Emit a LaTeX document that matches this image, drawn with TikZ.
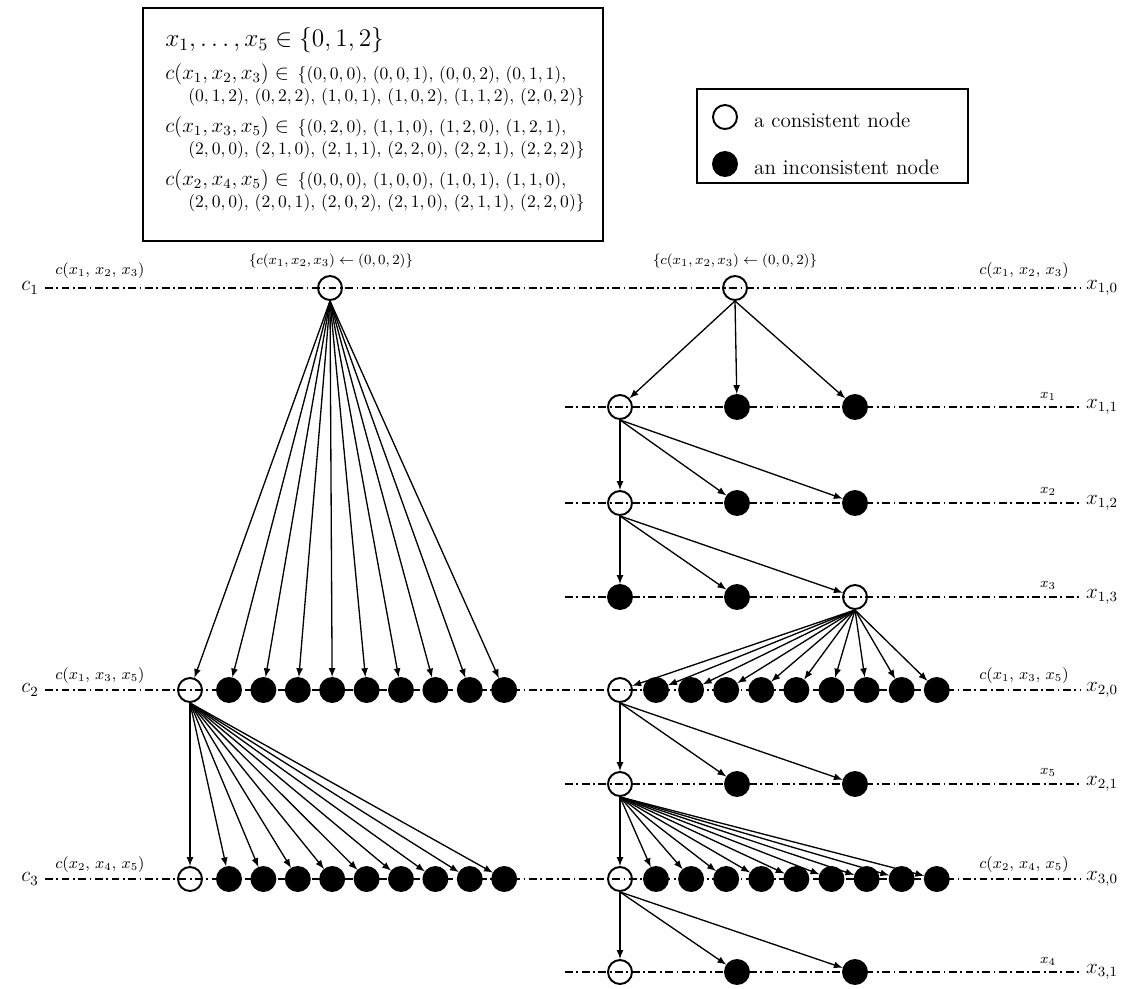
\documentclass[tikz,border=0pt]{standalone}
\usepackage{tikz}
\usetikzlibrary{arrows}
\usetikzlibrary{positioning}
\usepackage{amsmath, amssymb}

\begin{document}
\begin{tikzpicture}[x=0.02cm,y=-0.02cm,>=latex,
  cons/.style={circle,draw,line width=1.1pt,minimum size=0.48cm,inner sep=0pt},
  incons/.style={cons,fill=black},
  lvl/.style={line width=0.7pt,dash pattern=on 4.5pt off 2pt on 1pt off 2pt},
  arc/.style={->,line width=0.75pt},
  dom/.style={anchor=west,inner sep=0pt}]
\useasboundingbox (0,0) rectangle (1130,988);

% constraints
\draw[line width=0.8pt] (143,8) rectangle (603,241);
\node[dom] (t1) at (165,40) {\Large $x_1,\ldots,x_5\in\{0,1,2\}$};
\node[dom] (t2) at (165,74) {{\large $c(x_1,x_2,x_3)\in{}$}\,$\{(0,0,0),\,(0,0,1),\,(0,0,2),\,(0,1,1),$};
\node[dom] (t2b) at (188,97) {$(0,1,2),\,(0,2,2),\,(1,0,1),\,(1,0,2),\,(1,1,2),\,(2,0,2)\}$};
\node[dom] (t3) at (165,127) {{\large $c(x_1,x_3,x_5)\in{}$}\,$\{(0,2,0),\,(1,1,0),\,(1,2,0),\,(1,2,1),$};
\node[dom] (t3b) at (188,150) {$(2,0,0),\,(2,1,0),\,(2,1,1),\,(2,2,0),\,(2,2,1),\,(2,2,2)\}$};
\node[dom] (t4) at (165,180) {{\large $c(x_2,x_4,x_5)\in{}$}\,$\{(0,0,0),\,(1,0,0),\,(1,0,1),\,(1,1,0),$};
\node[dom] (t4b) at (188,203) {$(2,0,0),\,(2,0,1),\,(2,0,2),\,(2,1,0),\,(2,1,1),\,(2,2,0)\}$};

% legend
\draw[line width=0.8pt] (697,89) rectangle (968,183);
\node[cons] (k1) at (725,117) {};
\node[incons] (k2) at (725,164) {};
\node[anchor=west] (k1t) at (748,120) {\large a consistent node};
\node[anchor=west] (k2t) at (748,167) {\large an inconsistent node};

% level names
\node (c1) at (30,288) {\large $c_1$};
\node (c2) at (30,690) {\large $c_2$};
\node (c3) at (30,879) {\large $c_3$};
\node (x10) at (1102,288) {\large $x_{1,0}$};
\node (x11) at (1102,407) {\large $x_{1,1}$};
\node (x12) at (1102,503) {\large $x_{1,2}$};
\node (x13) at (1102,597) {\large $x_{1,3}$};
\node (x20) at (1102,690) {\large $x_{2,0}$};
\node (x21) at (1102,784) {\large $x_{2,1}$};
\node (x30) at (1102,879) {\large $x_{3,0}$};
\node (x31) at (1102,972) {\large $x_{3,1}$};

\node (l1) at (100,271) {\small $c(x_1,\,x_2,\,x_3)$};
\node (l2) at (100,676) {\small $c(x_1,\,x_3,\,x_5)$};
\node (l3) at (100,865) {\small $c(x_2,\,x_4,\,x_5)$};
\node (h1) at (331,261) {\footnotesize $\{c(x_1,x_2,x_3)\leftarrow(0,0,2)\}$};
\node (h2) at (735,261) {\footnotesize $\{c(x_1,x_2,x_3)\leftarrow(0,0,2)\}$};
\node (r10) at (1024,271) {\small $c(x_1,\,x_2,\,x_3)$};
\node (r20) at (1024,676) {\small $c(x_1,\,x_3,\,x_5)$};
\node (r30) at (1024,865) {\small $c(x_2,\,x_4,\,x_5)$};
\node (r11) at (1048,396) {\footnotesize $x_1$};
\node (r12) at (1048,491) {\footnotesize $x_2$};
\node (r13) at (1048,585) {\footnotesize $x_3$};
\node (r21) at (1048,772) {\footnotesize $x_5$};
\node (r31) at (1048,961) {\footnotesize $x_4$};

% levels
\draw[lvl] (c1) -- (x10);
\draw[lvl] (c2) -- (x20);
\draw[lvl] (c3) -- (x30);
\foreach \n/\y in {11/407,12/503,13/597,21/784,31/972} {
  \coordinate (e\n) at (565,\y);
  \draw[lvl] (e\n) -- (x\n);
}

% left tree
\node[cons] (L) at (330,288) {};
\node[cons] (a0) at (190,690) {};
\node[cons] (b0) at (190,879) {};
\foreach \k in {1,...,9} {
  \node[incons] (a\k) at ({229+34.4*(\k-1)},690) {};
  \node[incons] (b\k) at ({229+34.4*(\k-1)},879) {};
}
\foreach \k in {0,...,9} {
  \draw[arc] (L.south) -- (a\k);
  \draw[arc] (a0.south) -- (b\k);
}

% right tree
\node[cons] (R) at (735,288) {};
\node[cons] (p0) at (620,407) {};
\node[incons] (p1) at (737,407) {};
\node[incons] (p2) at (855,407) {};
\node[cons] (q0) at (620,503) {};
\node[incons] (q1) at (737,503) {};
\node[incons] (q2) at (855,503) {};
\node[incons] (s0) at (620,597) {};
\node[incons] (s1) at (737,597) {};
\node[cons] (s2) at (855,597) {};
\node[cons] (u0) at (620,690) {};
\node[cons] (v0) at (620,784) {};
\node[incons] (v1) at (737,784) {};
\node[incons] (v2) at (855,784) {};
\node[cons] (w0) at (620,879) {};
\node[cons] (z0) at (620,972) {};
\node[incons] (z1) at (737,972) {};
\node[incons] (z2) at (855,972) {};
\foreach \k in {1,...,9} {
  \node[incons] (u\k) at ({656+35.1*(\k-1)},690) {};
  \node[incons] (w\k) at ({656+35.1*(\k-1)},879) {};
}
\foreach \k in {0,1,2} {
  \draw[arc] (R.south) -- (p\k);
  \draw[arc] (p0.south) -- (q\k);
  \draw[arc] (q0.south) -- (s\k);
  \draw[arc] (u0.south) -- (v\k);
  \draw[arc] (w0.south) -- (z\k);
}
\foreach \k in {0,...,9} {
  \draw[arc] (s2.south) -- (u\k);
  \draw[arc] (v0.south) -- (w\k);
}
\end{tikzpicture}
\end{document}
